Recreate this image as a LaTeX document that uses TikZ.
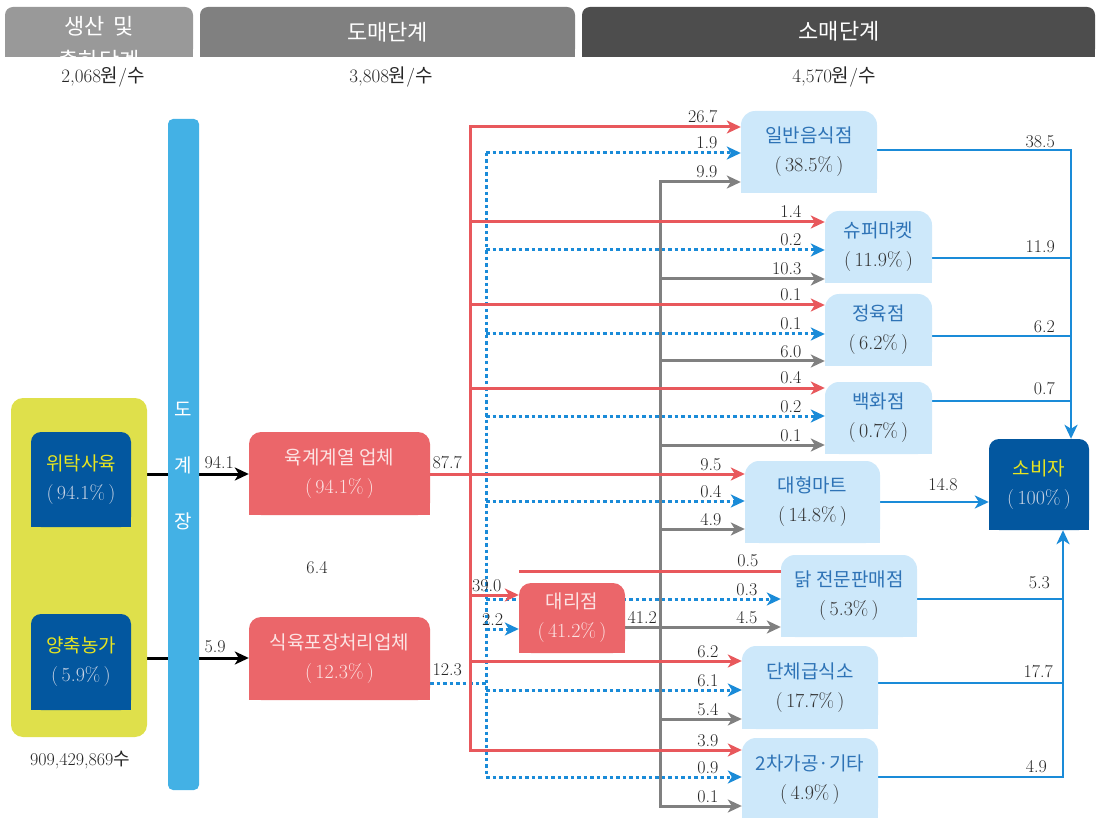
\documentclass[tikz,border=0pt]{standalone}
\usepackage{fontspec}
\newfontfamily\kr{Noto Sans CJK KR}
\usetikzlibrary{arrows.meta}
\pgfdeclarelayer{bg}
\pgfsetlayers{bg,main}
\definecolor{hdA}{HTML}{999999}
\definecolor{hdB}{HTML}{808080}
\definecolor{hdC}{HTML}{4D4D4D}
\definecolor{farmY}{HTML}{DFE04B}
\definecolor{dblue}{HTML}{03579F}
\definecolor{ytext}{HTML}{E8E520}
\definecolor{ltext}{HTML}{C9D4E5}
\definecolor{barblue}{HTML}{43B1E5}
\definecolor{rbox}{HTML}{EB666A}
\definecolor{rline}{HTML}{E8585C}
\definecolor{ptext}{HTML}{FCE4E4}
\definecolor{lblue}{HTML}{CDE8FA}
\definecolor{nblue}{HTML}{2E73B6}
\definecolor{pgray}{HTML}{333333}
\definecolor{bline}{HTML}{1A8BD8}
\definecolor{gline}{HTML}{808080}
\newcommand\boxfont{\fontsize{19}{29}\selectfont}
\newcommand\labfont{\fontsize{18}{20}\selectfont}
\newcommand\hdfont{\fontsize{22}{30}\selectfont}
\newcommand\pct[1]{{\fontsize{20}{29}\selectfont(\,#1\%\,)}}
\newcommand\flow[6]{\draw[#1] (#2|-0,#3) -- (#4.west|-0,#3) node[lab, anchor=base east, xshift=-22pt, yshift=4pt] (#6) {#5};}
\begin{document}
\begin{tikzpicture}[x=1pt,y=-1pt,
  topround/.style 2 args={path picture={\fill[#1,rounded corners=#2] (path picture bounding box.north west) rectangle (path picture bounding box.south east); \fill[#1] (path picture bounding box.west) rectangle (path picture bounding box.south east);}},
  box/.style 2 args={inner sep=0pt, align=center, font=\boxfont, minimum width=#1, minimum height=#2},
  retail/.style={topround={lblue}{14pt}},
  whole/.style={topround={rbox}{12pt}, text=ptext},
  farmer/.style={topround={dblue}{10pt}},
  hdr/.style={inner sep=0pt, minimum height=50pt, text=white, font=\hdfont\kr},
  price/.style={inner sep=0pt, font=\fontsize{19}{22}\selectfont, text=black!85},
  lab/.style={font=\labfont, inner sep=0pt, text=black!85},
  redl/.style={draw=rline, line width=3pt},
  grayl/.style={draw=gline, line width=3pt},
  bluedot/.style={draw=bline, line width=3pt, dash pattern=on 3.5pt off 3pt},
  bluel/.style={draw=bline, line width=2.5pt},
  blk/.style={draw=black, line width=3pt},
  tip/.style={-{Stealth[length=14pt,width=13pt,inset=4pt]}},
]
\useasboundingbox (0,0) rectangle (1098,818);

% ---------- headers ----------
\node[hdr, minimum width=188pt, topround={hdA}{8pt}] (h1) at (99,32) {};
\begin{scope}
  \clip (h1.north west) rectangle (h1.south east);
  \node[hdr] (h1t) at (99,26) {생산 \,및};
  \node[hdr, minimum height=0pt, text height=9pt, text depth=0pt, anchor=base] (h1u) at (99,69) {출하단계};
\end{scope}
\node[hdr, minimum width=375pt, topround={hdB}{8pt}] (h2) at (387.5,32) {도매단계};
\node[hdr, minimum width=513pt, topround={hdC}{8pt}] (h3) at (838.5,32) {\hspace*{0pt}};
\node[hdr] (h3t) at (839,31) {소매단계};
\node[price] (p1) at (103,77) {2,068{\kr 원}/{\kr 수}};
\node[price] (p2) at (391,77) {3,808{\kr 원}/{\kr 수}};
\node[price] (p3) at (834,77) {4,570{\kr 원}/{\kr 수}};

% ---------- left side ----------
\node[fill=farmY, rounded corners=12pt, minimum width=136pt, minimum height=339pt, inner sep=0pt] (farm) at (79,567.5) {};
\node[box={100pt}{95pt}, farmer] (witak) at (81,479.5) {{\kr\color{ytext}위탁사육}\\{\color{ltext}\pct{94.1}}};
\node[box={100pt}{96pt}, farmer] (yang) at (81,662) {{\kr\color{ytext}양축농가}\\{\color{ltext}\pct{5.9}}};
\node[lab] (cnt) at (80,760) {909,429,869{\kr 수}};
\node[fill=barblue, rounded corners=5pt, minimum width=31pt, minimum height=671pt, inner sep=0pt] (dogye) at (183.5,454.5) {};
\node[inner sep=0pt, align=center, text=white, font=\fontsize{19}{56}\selectfont\kr] (dogyet) at (183.5,466) {도\\계\\장};

\node[box={181pt}{83pt}, whole] (yukgye) at (339.5,473.5) {{\kr 육계계열 업체}\\\pct{94.1}};
\node[box={181pt}{83pt}, whole] (sikyuk) at (339.5,658.5) {{\kr 식육포장처리업체}\\\pct{12.3}};
\node[lab] (six) at (317,568) {6.4};
\node[box={106pt}{70pt}, whole] (daeri) at (572,618) {{\kr 대리점}\\\pct{41.2}};

% ---------- retail ----------
\newcommand\rtxt[2]{{\kr\color{nblue}#1}\\{\color{pgray}\pct{#2}}}
\node[box={136pt}{82pt}, retail] (ilban) at (809,152) {\rtxt{일반음식점}{38.5}};
\node[box={107pt}{72pt}, retail] (super) at (878.5,247) {\rtxt{슈퍼마켓}{11.9}};
\node[box={107pt}{72pt}, retail] (jeong) at (878.5,330) {\rtxt{정육점}{6.2}};
\node[box={107pt}{72pt}, retail] (baek) at (878.5,418) {\rtxt{백화점}{0.7}};
\node[box={135pt}{82pt}, retail] (daehyung) at (812.5,502) {\rtxt{대형마트}{14.8}};
\node[box={136pt}{82pt}, retail] (dak) at (849,596) {\rtxt{닭 전문판매점}{5.3}};
\node[box={136pt}{83pt}, retail] (danche) at (810,687.5) {\rtxt{단체급식소}{17.7}};
\node[box={136pt}{84pt}, retail] (icha) at (810,780) {\rtxt{2차가공·기타}{4.9}};
\node[box={100pt}{91pt}, topround={dblue}{10pt}] (sobija) at (1039,484.5) {{\kr\color{ytext}소비자}\\{\color{ltext}\pct{100}}};

\coordinate (rT) at (470,0);
\coordinate (bT) at (486,0);
\coordinate (gT) at (660,0);
\coordinate (cT) at (1071,0);
\coordinate (cL) at (1063,0);
\coordinate (r05) at (519,571);

\begin{pgfonlayer}{bg}
% gray flows
\draw[grayl, line cap=rect] (gT|-0,182) -- (gT|-0,806);
\flow{grayl,tip}{gT}{182}{ilban}{9.9}{g1}
\flow{grayl,tip}{gT}{279}{super}{10.3}{g2}
\flow{grayl,tip}{gT}{361}{jeong}{6.0}{g3}
\flow{grayl,tip}{gT}{445}{baek}{0.1}{g4}
\flow{grayl,tip}{gT}{529}{daehyung}{4.9}{g5}
\draw[grayl,tip] (daeri.east|-0,627) -- (dak.west|-0,627)
  node[lab, anchor=base east, xshift=-22pt, yshift=4pt] (g6) {4.5}
  node[pos=0, lab, anchor=base west, xshift=1pt, yshift=4pt] (g6s) {41.2};
\flow{grayl,tip}{gT}{719}{danche}{5.4}{g7}
\flow{grayl,tip}{gT}{806}{icha}{0.1}{g8}
% blue dotted flows
\draw[bluedot] (bT|-0,153) -- (bT|-0,777);
\draw[bluedot] (sikyuk.east|-0,683) -- (bT|-0,683)
  node[pos=0, lab, anchor=base west, xshift=1pt, yshift=8pt] (b0) {12.3};
\flow{bluedot,tip}{bT}{153}{ilban}{1.9}{b1}
\flow{bluedot,tip}{bT}{250}{super}{0.2}{b2}
\flow{bluedot,tip}{bT}{334}{jeong}{0.1}{b3}
\flow{bluedot,tip}{bT}{416}{baek}{0.2}{b4}
\flow{bluedot,tip}{bT}{501}{daehyung}{0.4}{b5}
\flow{bluedot,tip}{bT}{599}{dak}{0.3}{b6}
\draw[bluedot,tip] (bT|-0,629) -- (daeri.west|-0,629);
\node[lab, anchor=base west] (b7) at (482,625) {2.2};
\flow{bluedot,tip}{bT}{690}{danche}{6.1}{b8}
\flow{bluedot,tip}{bT}{777}{icha}{0.9}{b9}
% red flows
\draw[redl, line cap=rect] (rT|-0,127) -- (rT|-0,750);
\flow{redl,tip}{rT}{127}{ilban}{26.7}{r1}
\flow{redl,tip}{rT}{222}{super}{1.4}{r2}
\flow{redl,tip}{rT}{305}{jeong}{0.1}{r3}
\flow{redl,tip}{rT}{388}{baek}{0.4}{r4}
\draw[redl,tip] (yukgye.east|-0,474) -- (daehyung.west|-0,474)
  node[lab, anchor=base east, xshift=-22pt, yshift=4pt] (r5) {9.5}
  node[pos=0, lab, anchor=base west, xshift=1pt, yshift=6pt] (r5s) {87.7};
\draw[redl] (r05) -- (dak.west|-r05)
  node[lab, anchor=base east, xshift=-21pt, yshift=5pt] (r6) {0.5};
\draw[redl,tip] (rT|-0,595) -- (daeri.west|-0,595);
\node[lab, anchor=base west] (r7) at (472,591) {39.0};
\flow{redl,tip}{rT}{661}{danche}{6.2}{r8}
\flow{redl,tip}{rT}{750}{icha}{3.9}{r9}
% black flows
\draw[blk] (farm.east|-0,474) -- (dogye.west|-0,474);
\draw[blk,tip] (dogye.east|-0,474) -- (yukgye.west|-0,474)
  node[pos=0, lab, anchor=base west, xshift=4pt, yshift=6pt] (k1) {94.1};
\draw[blk] (farm.east|-0,658) -- (dogye.west|-0,658);
\draw[blk,tip] (dogye.east|-0,658) -- (sikyuk.west|-0,658)
  node[pos=0, lab, anchor=base west, xshift=4pt, yshift=6pt] (k2) {5.9};
% to consumer
\draw[bluel,tip] (ilban.east|-0,150) -| (cT|-sobija.north);
\draw[bluel, line cap=rect] (super.east|-0,258) -- (cT|-0,258);
\draw[bluel, line cap=rect] (jeong.east|-0,336) -- (cT|-0,336);
\draw[bluel, line cap=rect] (baek.east|-0,401) -- (cT|-0,401);
\draw[bluel,tip] (daehyung.east|-0,502) -- (sobija.west|-0,502);
\draw[bluel, line cap=rect] (dak.east|-0,599) -- (cL|-0,599);
\draw[bluel, line cap=rect] (danche.east|-0,683) -- (cL|-0,683);
\draw[bluel,tip] (icha.east|-0,777) -| (cL|-sobija.south);
\end{pgfonlayer}
\node[lab, anchor=base east] (o1) at (1055,148) {38.5};
\node[lab, anchor=base east] (o2) at (1055,253) {11.9};
\node[lab, anchor=base east] (o3) at (1055,333) {6.2};
\node[lab, anchor=base east] (o4) at (1055,395) {0.7};
\node[lab, anchor=base] (o5) at (943,490) {14.8};
\node[lab, anchor=base east] (o6) at (1050,588) {5.3};
\node[lab, anchor=base east] (o7) at (1053,677) {17.7};
\node[lab, anchor=base east] (o8) at (1047,772) {4.9};
\end{tikzpicture}
\end{document}
